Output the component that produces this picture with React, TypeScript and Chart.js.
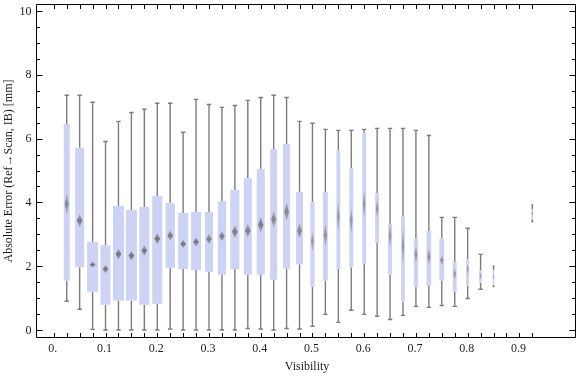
import React, { useEffect, useRef } from "react";
import { Chart, registerables } from "chart.js";

Chart.register(...registerables);

// Bin centers (visibility)
const visibility = [
  0.025, 0.05, 0.075, 0.1, 0.125, 0.15, 0.175, 0.2, 0.225, 0.25,
  0.275, 0.3, 0.325, 0.35, 0.375, 0.4, 0.425, 0.45, 0.475, 0.5,
  0.525, 0.55, 0.575, 0.6, 0.625, 0.65, 0.675, 0.7, 0.725, 0.75,
  0.775, 0.8, 0.825, 0.85, 0.875, 0.9, 0.925,
];

const whiskerHigh = [
  7.36, 7.36, 7.14, 5.91, 6.54, 6.82, 6.92, 7.11, 7.11, 6.2,
  7.23, 7.07, 6.98, 7.04, 7.2, 7.29, 7.36, 7.29, 6.54, 6.48,
  6.29, 6.26, 6.26, 6.29, 6.32, 6.32, 6.32, 6.26, 6.1, 3.53,
  3.53, 3.19, 2.37, 2.0, null, null, 3.92,
];

const quartile3 = [
  6.46, 5.71, 2.76, 2.66, 3.89, 3.76, 3.86, 4.2, 3.98, 3.67,
  3.7, 3.7, 4.04, 4.39, 4.76, 5.05, 5.67, 5.83, 4.33, 4.01,
  4.32, 5.63, 5.08, 6.18, 4.29, 3.32, 3.57, 2.87, 3.1, 2.87,
  2.12, 2.23, 1.88, 1.88, null, null, 3.78,
];

const medians = [
  3.95, 3.43, 2.05, 1.91, 2.38, 2.33, 2.49, 2.86, 2.96, 2.7,
  2.76, 2.85, 2.94, 3.08, 3.11, 3.3, 3.47, 3.71, 3.11, 2.77,
  2.98, 3.55, 3.43, 3.94, 3.81, 2.96, 2.64, 2.37, 2.3, 2.19,
  1.76, 1.91, 1.69, 1.67, null, null, 3.66,
];

const quartile1 = [
  1.55, 1.97, 1.2, 0.79, 0.92, 0.92, 0.79, 0.82, 1.95, 1.91,
  1.88, 1.82, 1.73, 1.91, 1.73, 1.73, 1.57, 1.92, 2.06, 1.36,
  1.55, 1.92, 1.97, 2.08, 2.74, 1.73, 0.89, 1.36, 1.39, 1.55,
  1.2, 1.39, 1.48, 1.41, null, null, 3.47,
];

const whiskerLow = [
  0.9, 0.65, 0.02, 0, 0, 0, 0, 0, 0.03, 0,
  0, 0, 0, 0, 0.05, 0.03, 0, 0.05, 0.03, 0.12,
  0.49, 0.24, 0.62, 0.49, 0.43, 0.33, 0.46, 0.74, 0.71, 0.77,
  0.74, 0.99, 1.28, 1.36, null, null, 3.39,
];

// Relative sample size of each bin (drives box width)
const relSampleSize = [
  0.55, 0.82, 1, 0.91, 1, 1, 0.91, 0.91, 0.85, 0.91,
  0.91, 0.73, 0.75, 0.82, 0.73, 0.73, 0.64, 0.64, 0.64, 0.39,
  0.45, 0.36, 0.36, 0.36, 0.36, 0.36, 0.34, 0.39, 0.43, 0.43,
  0.36, 0.27, 0.27, 0.14, null, null, 0.14,
];

// Half-extent of median confidence interval (mm)
const medianCI = [
  0.34, 0.2, 0.09, 0.13, 0.16, 0.15, 0.16, 0.17, 0.16, 0.13,
  0.14, 0.16, 0.16, 0.2, 0.22, 0.24, 0.26, 0.28, 0.24, 0.31,
  0.37, 0.47, 0.43, 0.47, 0.31, 0.39, 0.6, 0.28, 0.26, 0.16,
  0.19, 0.19, 0.1, 0.1, null, null, 0.1,
];

const xTickValues = [0, 0.1, 0.2, 0.3, 0.4, 0.5, 0.6, 0.7, 0.8, 0.9];
const xTickLabels = ["0.", "0.1", "0.2", "0.3", "0.4", "0.5", "0.6", "0.7", "0.8", "0.9"];
const yTickValues = [0, 2, 4, 6, 8, 10];
const yTickLabels = ["0", "2", "4", "6", "8", "10"];
const yMinorValues = [0.5, 1, 1.5, 2.5, 3, 3.5, 4.5, 5, 5.5, 6.5, 7, 7.5, 8.5, 9, 9.5];

const xTitle = "Visibility";
const yTitle = "Absolute Error (Ref\u2192Scan, IB) [mm]";

const FONT = '12px "Liberation Serif", "DejaVu Serif", serif';
const BOX_COLOR = "#cdd3f5";
const WHISKER_COLOR = "#7c7c7c";
const MAX_BOX_PX = 11;

const boxPlugin = {
  id: "boxWhisker",
  afterDatasetsDraw(chart: any) {
    const ctx = chart.ctx as CanvasRenderingContext2D;
    const xs = chart.scales.x;
    const ys = chart.scales.y;
    const area = chart.chartArea;
    ctx.save();

    for (let i = 0; i < visibility.length; i++) {
      const med = medians[i];
      if (med == null) continue;
      const rel = relSampleSize[i] as number;
      const cx = xs.getPixelForValue(visibility[i]);
      const w = rel * MAX_BOX_PX;
      const yHi = ys.getPixelForValue(whiskerHigh[i] as number);
      const yQ3 = ys.getPixelForValue(quartile3[i] as number);
      const yQ1 = ys.getPixelForValue(quartile1[i] as number);
      const yLo = ys.getPixelForValue(whiskerLow[i] as number);
      const yMed = ys.getPixelForValue(med);

      // whiskers
      ctx.strokeStyle = WHISKER_COLOR;
      ctx.lineWidth = 1.4;
      ctx.beginPath();
      ctx.moveTo(cx, yHi);
      ctx.lineTo(cx, yQ3);
      ctx.moveTo(cx, yQ1);
      ctx.lineTo(cx, yLo);
      const cap = rel < 0.2 ? 1 : 2.2;
      ctx.moveTo(cx - cap, yHi);
      ctx.lineTo(cx + cap, yHi);
      ctx.moveTo(cx - cap, yLo);
      ctx.lineTo(cx + cap, yLo);
      ctx.stroke();

      // box
      ctx.fillStyle = BOX_COLOR;
      ctx.fillRect(cx - w / 2, yQ3, w, yQ1 - yQ3);

      // median diamond (softer for narrow bins)
      const ci = medianCI[i] as number;
      const dh = Math.abs(ys.getPixelForValue(med + ci) - yMed);
      const dw = Math.max(0.8, Math.min(w * 0.34, 2.8));
      const a = Math.min(0.92, 0.35 + 0.6 * rel);
      const grad = ctx.createLinearGradient(0, yMed - dh, 0, yMed + dh);
      grad.addColorStop(0, `rgba(105,105,105,${a * 0.5})`);
      grad.addColorStop(0.5, `rgba(105,105,105,${a})`);
      grad.addColorStop(1, `rgba(105,105,105,${a * 0.5})`);
      ctx.fillStyle = grad;
      ctx.beginPath();
      ctx.moveTo(cx, yMed - dh);
      ctx.lineTo(cx + dw, yMed);
      ctx.lineTo(cx, yMed + dh);
      ctx.lineTo(cx - dw, yMed);
      ctx.closePath();
      ctx.fill();
    }

    // frame
    const L = Math.round(area.left) + 0.5;
    const R = Math.round(area.right) + 0.5;
    const T = Math.round(area.top) + 0.5;
    const B = Math.round(area.bottom) - 0.5;
    ctx.strokeStyle = "#000";
    ctx.lineWidth = 1;
    ctx.beginPath();
    ctx.moveTo(L, T);
    ctx.lineTo(R, T);
    ctx.lineTo(R, B);
    ctx.lineTo(L, B);
    ctx.closePath();
    ctx.stroke();

    // x ticks (top & bottom, inward) at bin positions
    ctx.beginPath();
    const xTickPositions = [0, ...visibility];
    for (const v of xTickPositions) {
      const px = Math.round(xs.getPixelForValue(v)) + 0.5;
      ctx.moveTo(px, B);
      ctx.lineTo(px, B - 4.5);
      ctx.moveTo(px, T);
      ctx.lineTo(px, T + 4.5);
    }
    // y ticks (left & right, inward)
    for (const v of yTickValues) {
      const py = Math.round(ys.getPixelForValue(v)) + 0.5;
      ctx.moveTo(L, py);
      ctx.lineTo(L + 6, py);
      ctx.moveTo(R, py);
      ctx.lineTo(R - 6, py);
    }
    for (const v of yMinorValues) {
      const py = Math.round(ys.getPixelForValue(v)) + 0.5;
      ctx.moveTo(L, py);
      ctx.lineTo(L + 3.5, py);
      ctx.moveTo(R, py);
      ctx.lineTo(R - 3.5, py);
    }
    ctx.stroke();

    // tick labels
    ctx.fillStyle = "#1e1e1e";
    ctx.font = FONT;
    ctx.textAlign = "center";
    ctx.textBaseline = "middle";
    xTickValues.forEach((v, i) => {
      ctx.fillText(xTickLabels[i], xs.getPixelForValue(v) - 1, B + 11);
    });
    ctx.textAlign = "right";
    yTickValues.forEach((v, i) => {
      ctx.fillText(yTickLabels[i], L - 5, ys.getPixelForValue(v) + 0.5);
    });

    // axis titles
    ctx.textAlign = "center";
    ctx.fillText(xTitle, (L + R) / 2 + 1, 367);
    ctx.save();
    ctx.translate(9, (T + B) / 2);
    ctx.rotate(-Math.PI / 2);
    ctx.fillText(yTitle, 0, 0);
    ctx.restore();

    ctx.restore();
  },
};

export default function App() {
  const canvasRef = useRef<HTMLCanvasElement | null>(null);

  useEffect(() => {
    document.body.style.margin = "0";
    const canvas = canvasRef.current;
    if (!canvas) return;
    const chart = new Chart(canvas, {
      type: "scatter",
      data: {
        datasets: [
          {
            data: visibility.map((v, i) => ({ x: v, y: medians[i] as any })),
            pointRadius: 0,
            showLine: false,
          },
        ],
      },
      options: {
        responsive: false,
        animation: false,
        devicePixelRatio: 1,
        layout: { padding: { left: 36, right: 1, top: 4, bottom: 39 } },
        scales: {
          x: { type: "linear", min: -0.0344, max: 1.0075, display: false },
          y: { type: "linear", min: -0.25, max: 10.22, display: false },
        },
        plugins: { legend: { display: false }, tooltip: { enabled: false } },
      },
      plugins: [boxPlugin],
    });
    return () => chart.destroy();
  }, []);

  return (
    <canvas
      ref={canvasRef}
      width={576}
      height={377}
      style={{ display: "block", width: 576, height: 377 }}
    />
  );
}
